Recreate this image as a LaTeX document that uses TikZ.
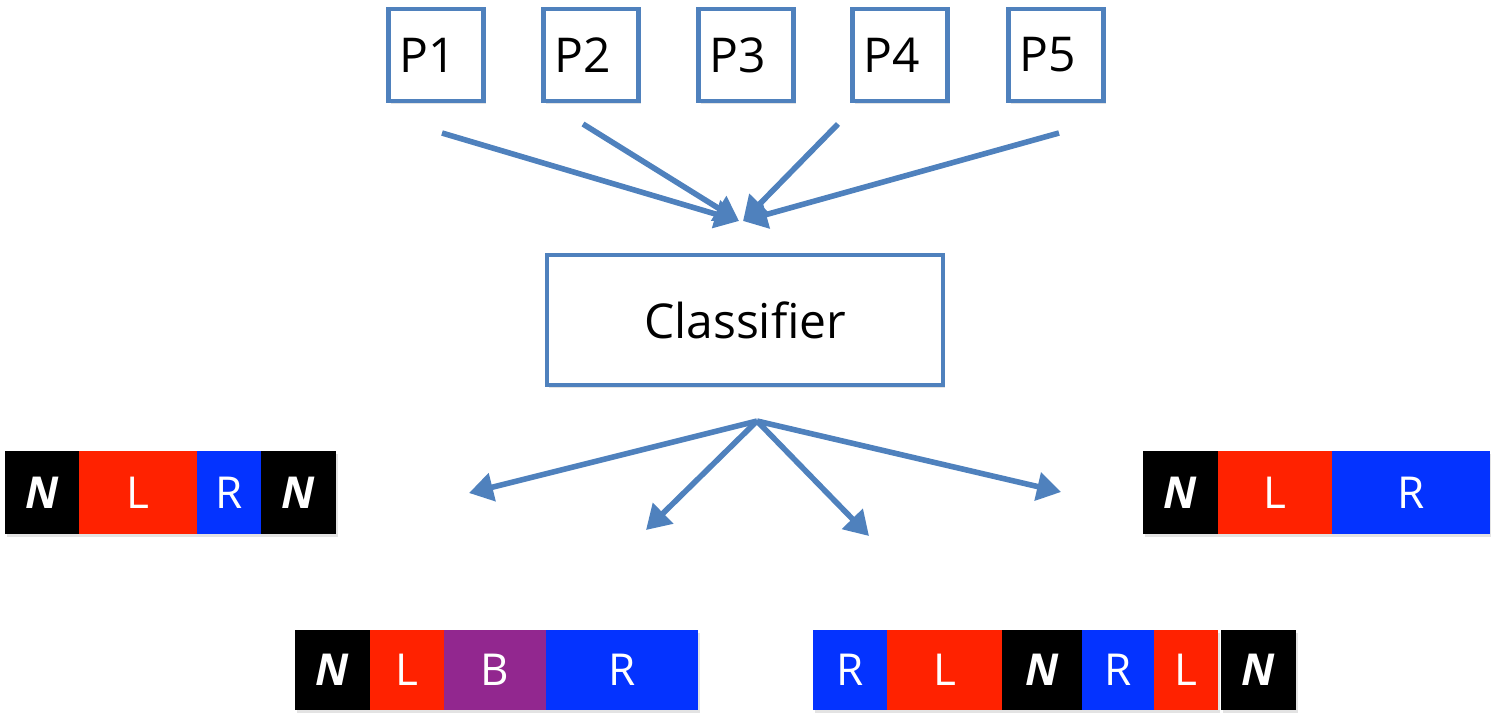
\documentclass[tikz,border=0pt]{standalone}
\usepackage{fontspec}
\setmainfont{Open Sans}
\usetikzlibrary{arrows.meta,shadows}
\definecolor{linkblue}{HTML}{4F81BD}
\definecolor{segred}{HTML}{FF2200}
\definecolor{segblue}{HTML}{0433FF}
\definecolor{segpurple}{HTML}{92278F}
\newcommand\segN{{\bfseries\itshape N}}
\begin{document}
\begin{tikzpicture}[x=0.5pt,y=-0.5pt,
  soft/.style={drop shadow={shadow xshift=1pt,shadow yshift=-1.5pt,opacity=0.22}},
  pbox/.style={draw=linkblue,line width=2.2pt,fill=white,soft,outer sep=0pt,
    minimum width=47.5pt,minimum height=46pt,inner xsep=5.5pt,text width=36.5pt,
    align=left,font=\fontsize{24}{28}\selectfont},
  clsbox/.style={draw=linkblue,line width=2.2pt,fill=white,soft,outer sep=0pt,
    minimum width=198pt,minimum height=65pt,font=\fontsize{24}{28}\selectfont},
  link/.style={draw=linkblue,line width=2.8pt,-{Triangle[length=12pt,width=14pt]}},
  seg/.style={inner sep=0pt,outer sep=0pt,text=white,soft,
    font=\fontsize{22}{26}\selectfont},
  tall/.style={seg,minimum height=41.5pt},
  short/.style={seg,minimum height=40pt},
  first/.style={anchor=north west},
  next/.style={anchor=west}]
\useasboundingbox (0,0) rectangle (1491,713);

% inputs
\node[pbox] (p1) at (436,55) {P1};
\node[pbox] (p2) at (591,55) {P2};
\node[pbox] (p3) at (746,55) {P3};
\node[pbox] (p4) at (900,55) {P4};
\node[pbox] (p5) at (1056,55) {P5};

% classifier
\node[clsbox] (cls) at (745,320) {Classifier};

% converging arrows
\coordinate (s1) at (442,133);
\coordinate (s2) at (583,124);
\coordinate (s4) at (838,124);
\coordinate (s5) at (1059,133);
\coordinate (inL) at (739,221);
\coordinate (inR) at (743,221);
\draw[link] (s1) -- (inL);
\draw[link] (s2) -- (inL);
\draw[link] (s4) -- (inR);
\draw[link] (s5) -- (inR);

% diverging arrows
\coordinate (fan) at (757,421);
\coordinate (o1) at (469,493);
\coordinate (o2) at (646,530);
\coordinate (o3) at (869,536);
\coordinate (o4) at (1061,492);
\draw[link] (fan) -- (o1);
\draw[link] (fan) -- (o2);
\draw[link] (fan) -- (o3);
\draw[link] (fan) -- (o4);

% sequence: N L R N
\node[tall,first,fill=black,minimum width=37pt] (a1) at (5,451) {\segN};
\node[tall,next,fill=segred,minimum width=59pt] (a2) at (a1.east) {L};
\node[tall,next,fill=segblue,minimum width=32pt] (a3) at (a2.east) {R};
\node[tall,next,fill=black,minimum width=37.5pt] (a4) at (a3.east) {\segN};

% sequence: N L R
\node[tall,first,fill=black,minimum width=37.5pt] (b1) at (1143,451) {\segN};
\node[tall,next,fill=segred,minimum width=57pt] (b2) at (b1.east) {L};
\node[tall,next,fill=segblue,minimum width=79pt] (b3) at (b2.east) {R};

% sequence: N L B R
\node[short,first,fill=black,minimum width=37.5pt] (c1) at (295,630) {\segN};
\node[short,next,fill=segred,minimum width=37pt] (c2) at (c1.east) {L};
\node[short,next,fill=segpurple,minimum width=51pt] (c3) at (c2.east) {B};
\node[short,next,fill=segblue,minimum width=76pt] (c4) at (c3.east) {R};

% sequence: R L N R L N
\node[short,first,fill=segblue,minimum width=37pt] (d1) at (813,630) {R};
\node[short,next,fill=segred,minimum width=57.5pt] (d2) at (d1.east) {L};
\node[short,next,fill=black,minimum width=40pt] (d3) at (d2.east) {\segN};
\node[short,next,fill=segblue,minimum width=36pt] (d4) at (d3.east) {R};
\node[short,next,fill=segred,minimum width=32pt] (d5) at (d4.east) {L};
\node[short,first,fill=black,minimum width=37.5pt] (d6) at (1221,630) {\segN};
\end{tikzpicture}
\end{document}
